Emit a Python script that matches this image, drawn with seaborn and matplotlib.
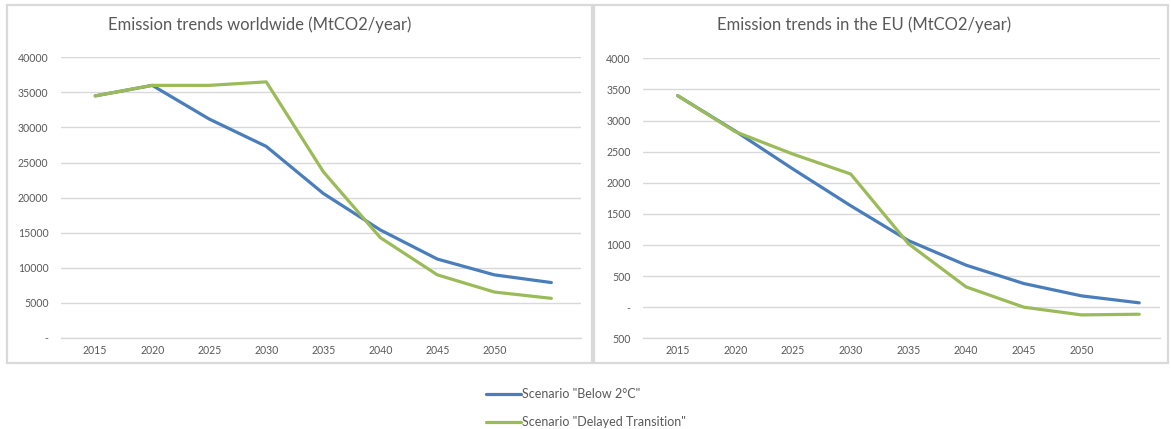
import matplotlib
matplotlib.use("Agg")
import matplotlib.pyplot as plt
from matplotlib.patches import Rectangle
from matplotlib.lines import Line2D
import seaborn as sns
import pandas as pd

# Emission pathways (MtCO2/year), 2015-2055 in 5-year steps
years = [2015, 2020, 2025, 2030, 2035, 2040, 2045, 2050, 2055]
tick_years = [2015, 2020, 2025, 2030, 2035, 2040, 2045, 2050]
scenarios = ['Scenario "Below 2°C"', 'Scenario "Delayed Transition"']

world_below2 = [34500, 36000, 31200, 27300, 20600, 15400, 11250, 9000, 7900]
world_delayed = [34500, 36000, 36000, 36500, 23700, 14300, 9000, 6550, 5650]

eu_below2 = [3400, 2830, 2220, 1630, 1070, 675, 380, 182, 70]
eu_delayed = [3400, 2820, 2460, 2140, 1020, 326, 0, -124, -113]

world_ticks = [0, 5000, 10000, 15000, 20000, 25000, 30000, 35000, 40000]
world_ticklabels = ["-", "5000", "10000", "15000", "20000", "25000", "30000", "35000", "40000"]
eu_ticks = [-500, 0, 500, 1000, 1500, 2000, 2500, 3000, 3500, 4000]
eu_ticklabels = ["500", "-", "500", "1000", "1500", "2000", "2500", "3000", "3500", "4000"]

titles = ["Emission trends worldwide (MtCO2/year)", "Emission trends in the EU (MtCO2/year)"]

colors = {scenarios[0]: "#4a7ebb", scenarios[1]: "#9bbb59"}
text_color = "#595959"
grid_color = "#d9d9d9"

def long_frame(below, delayed):
    return pd.DataFrame({
        "year": years * 2,
        "value": below + delayed,
        "scenario": [scenarios[0]] * len(years) + [scenarios[1]] * len(years),
    })

sns.set_theme(style="white")
plt.rcParams["font.family"] = ["Lato", "DejaVu Sans"]

W, H = 1171, 429
fig = plt.figure(figsize=(W / 100, H / 100), dpi=100)

def px_axes(x0, x1, ytop, ybot):
    return fig.add_axes([x0 / W, 1 - ybot / H, (x1 - x0) / W, (ybot - ytop) / H])

# panel frames
for (x0, x1) in [(7, 592), (594, 1168)]:
    fig.patches.append(Rectangle((x0 / W, 1 - 363 / H), (x1 - x0) / W, 358 / H,
                                 transform=fig.transFigure, fill=False,
                                 edgecolor=grid_color, linewidth=1.6))

ax_w = px_axes(61, 581, 57.3, 338)
ax_e = px_axes(643, 1160, 58.3, 338.3)

panels = [
    (ax_w, long_frame(world_below2, world_delayed), world_ticks, world_ticklabels,
     (0, 40000), (2012.0, 2057.6)),
    (ax_e, long_frame(eu_below2, eu_delayed), eu_ticks, eu_ticklabels,
     (-500, 4000), (2012.0, 2056.8)),
]

for ax, df, yt, ytl, ylim, xlim in panels:
    sns.lineplot(data=df, x="year", y="value", hue="scenario", palette=colors,
                 linewidth=2.3, ax=ax, legend=False)
    ax.set_ylim(*ylim)
    ax.set_xlim(*xlim)
    ax.set_yticks(yt)
    ax.set_yticklabels(ytl)
    ax.set_xticks(tick_years)
    ax.set_xticklabels([str(y) for y in tick_years])
    ax.set_xlabel("")
    ax.set_ylabel("")
    ax.grid(axis="y", color=grid_color, linewidth=1.0)
    ax.grid(axis="x", visible=False)
    ax.set_axisbelow(True)
    for s in ["top", "left", "right"]:
        ax.spines[s].set_visible(False)
    ax.spines["bottom"].set_color(grid_color)
    ax.spines["bottom"].set_linewidth(1.0)
    ax.tick_params(axis="both", length=0, labelsize=7.6, labelcolor=text_color)
    ax.tick_params(axis="y", pad=9)
    ax.tick_params(axis="x", pad=5)
    ax.patch.set_alpha(0)

fig.text(260 / W, 1 - 25 / H, titles[0], ha="center", va="center",
         fontsize=12, color=text_color)
fig.text(864.5 / W, 1 - 25 / H, titles[1], ha="center", va="center",
         fontsize=12, color=text_color)

handles = [Line2D([0], [0], color=colors[s], linewidth=2.3) for s in scenarios]
fig.legend(handles, scenarios, loc="upper left", bbox_to_anchor=(480 / W, 1 - 382 / H),
           frameon=False, fontsize=9, handlelength=2.8, handletextpad=0.1,
           labelspacing=1.25, borderpad=0, labelcolor=text_color)

fig.savefig("out.png", dpi=100)
